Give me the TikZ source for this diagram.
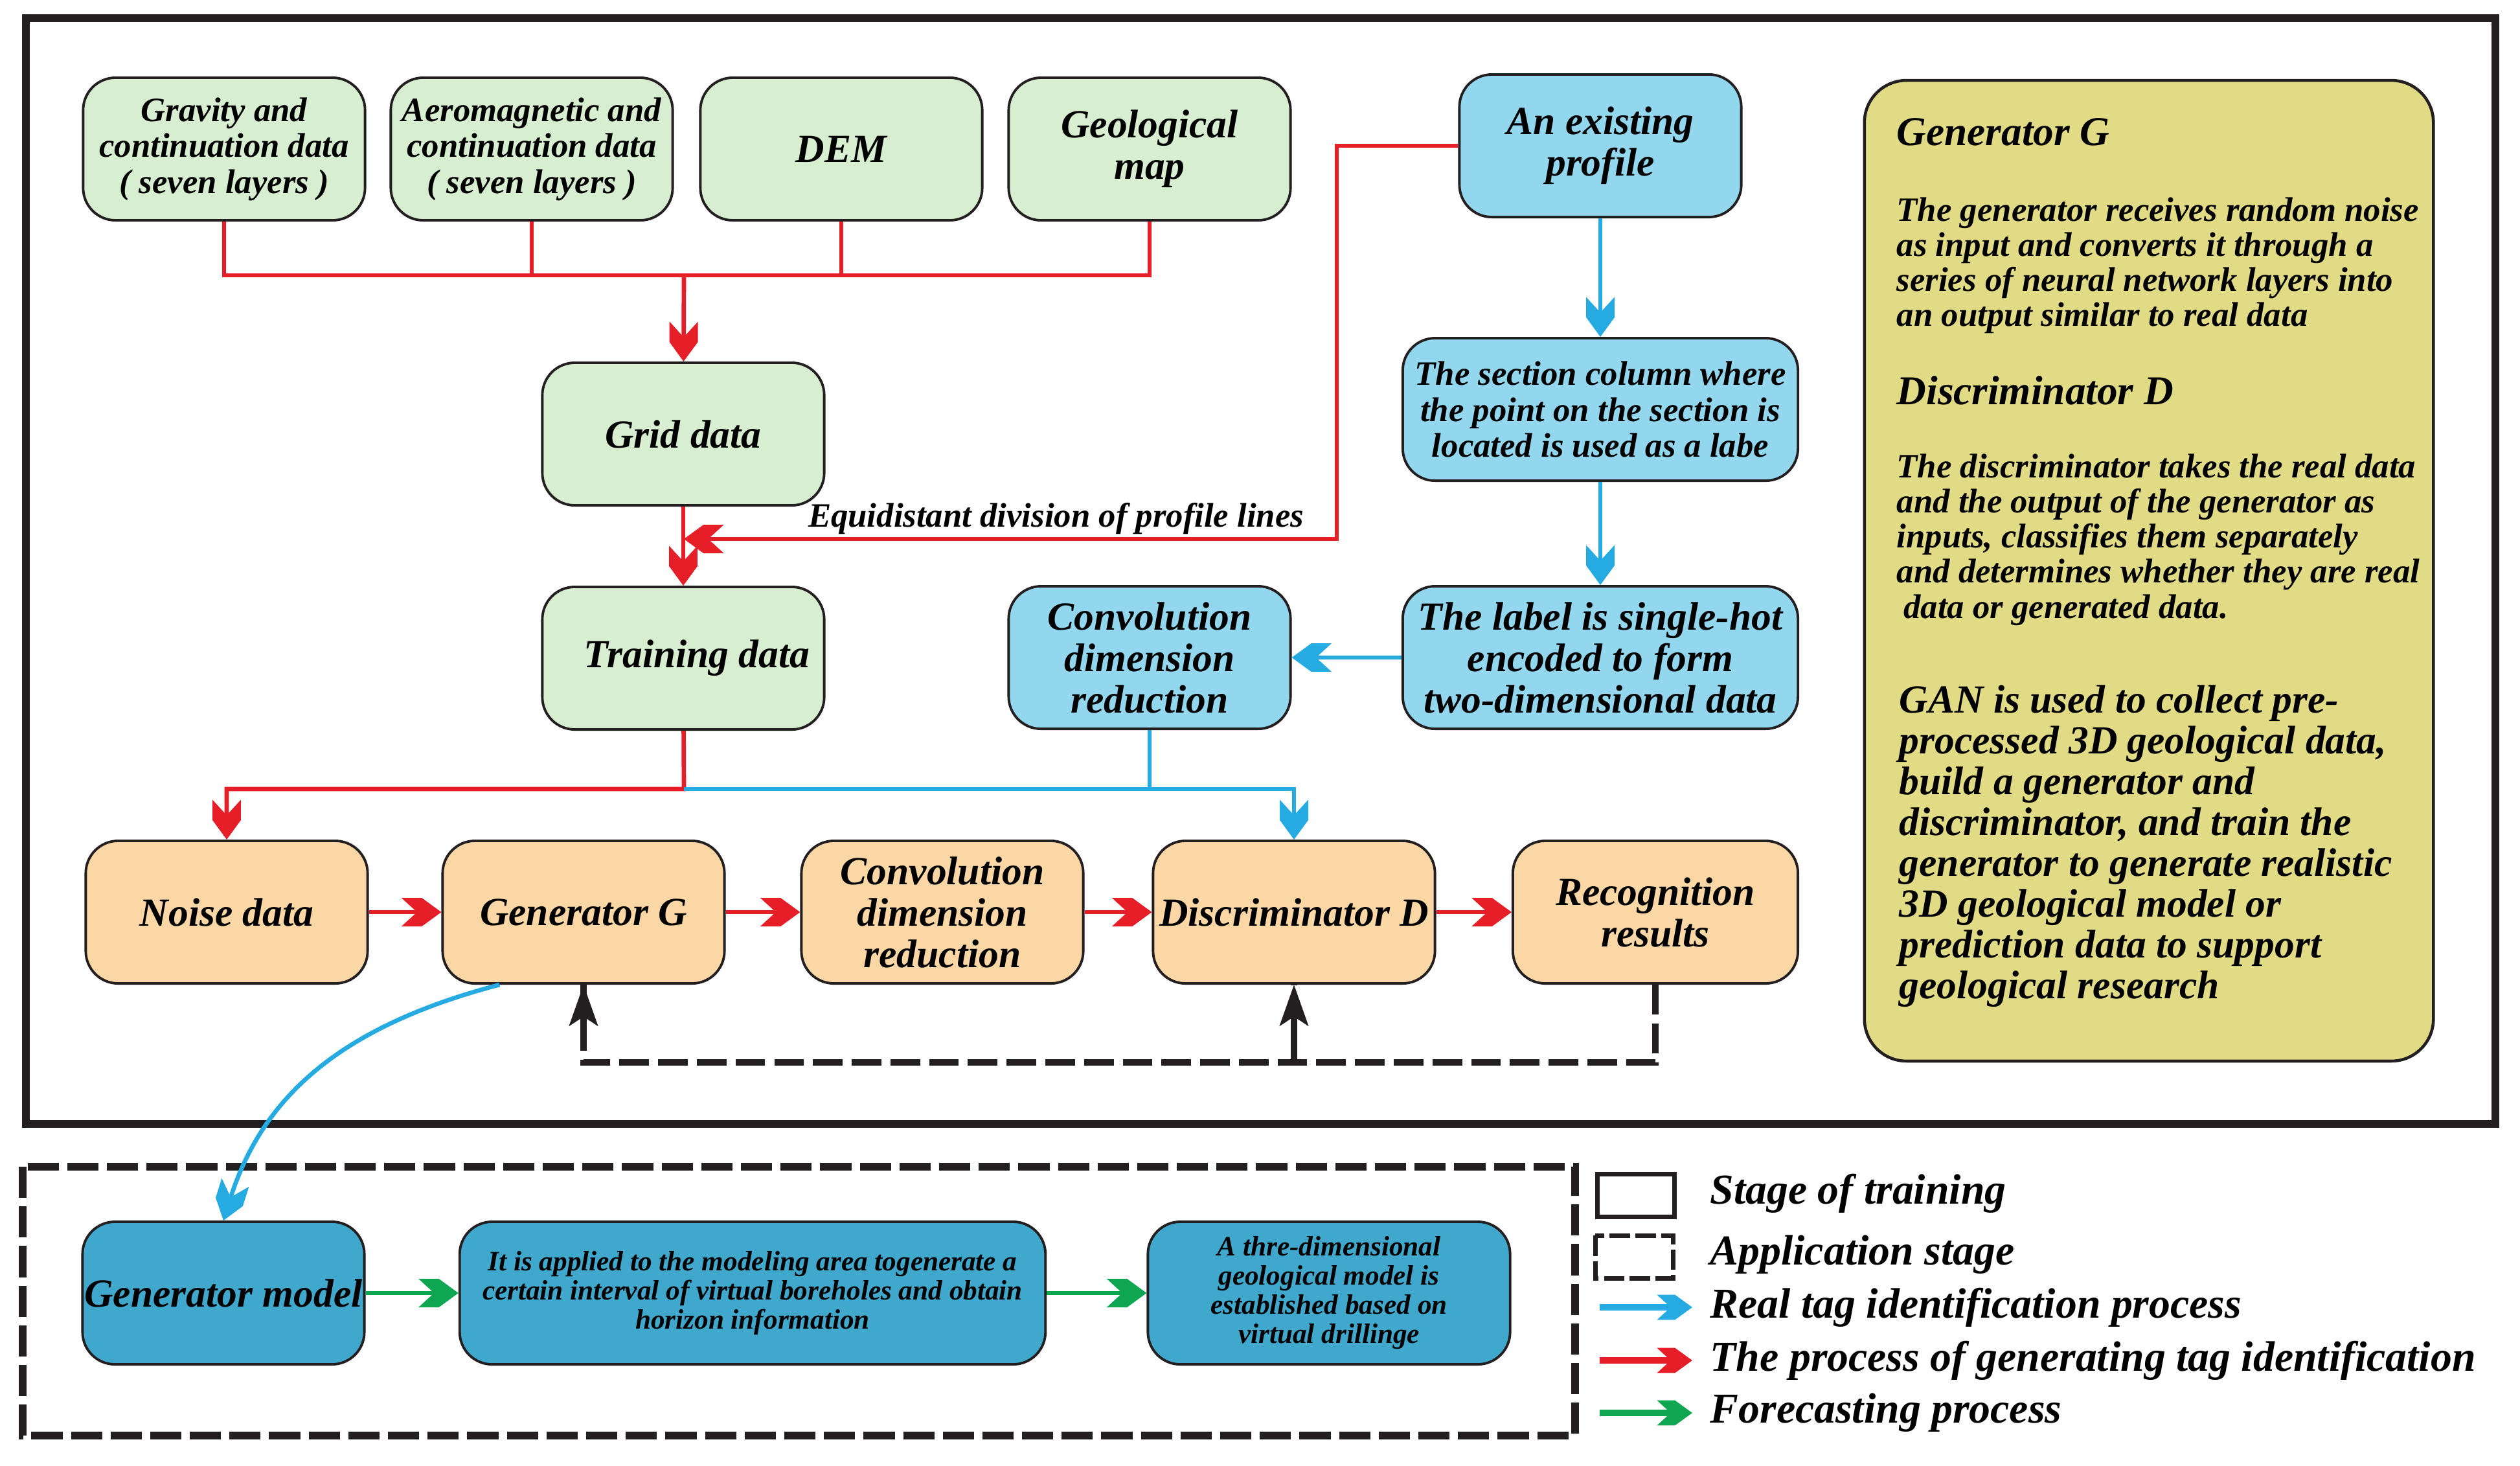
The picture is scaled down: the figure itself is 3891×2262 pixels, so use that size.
\documentclass[tikz,border=0pt]{standalone}
\usepackage{fontspec}
\setmainfont{Liberation Serif}
\usetikzlibrary{arrows.meta,calc}
\definecolor{boxgreen}{RGB}{216,238,208}
\definecolor{boxblue}{RGB}{146,215,238}
\definecolor{boxorange}{RGB}{250,215,164}
\definecolor{boxdeep}{RGB}{64,168,204}
\definecolor{boxyellow}{RGB}{226,219,134}
\definecolor{linered}{RGB}{230,30,40}
\definecolor{lineblue}{RGB}{38,170,226}
\definecolor{linegreen}{RGB}{14,166,80}
\definecolor{lineblack}{RGB}{35,31,32}
\pgfdeclarearrow{
	name=Chevron,
	parameters={\the\pgfarrowlength,\the\pgfarrowwidth},
	setup code={
		\pgfarrowssettipend{0pt}
		\pgfarrowssetlineend{-.55\pgfarrowlength}
		\pgfarrowssetbackend{-\pgfarrowlength}
		\pgfarrowssetvisualbackend{-.6\pgfarrowlength}
		\pgfarrowsupperhullpoint{-\pgfarrowlength}{.5\pgfarrowwidth}
		\pgfarrowsupperhullpoint{0pt}{0pt}
		\pgfarrowssavethe\pgfarrowlength
		\pgfarrowssavethe\pgfarrowwidth
	},
	drawing code={
		\pgfpathmoveto{\pgfqpoint{0pt}{0pt}}
		\pgfpathlineto{\pgfqpoint{-.49\pgfarrowlength}{.5\pgfarrowwidth}}
		\pgfpathlineto{\pgfqpoint{-\pgfarrowlength}{.5\pgfarrowwidth}}
		\pgfpathlineto{\pgfqpoint{-.61\pgfarrowlength}{0pt}}
		\pgfpathlineto{\pgfqpoint{-\pgfarrowlength}{-.5\pgfarrowwidth}}
		\pgfpathlineto{\pgfqpoint{-.49\pgfarrowlength}{-.5\pgfarrowwidth}}
		\pgfpathclose
		\pgfusepathqfill
	},
	defaults={length=16pt,width=12pt}
}
\begin{document}
\begin{tikzpicture}[x=.01cm,y=-.01cm,>={Chevron[length=17.5pt,width=12.5pt]},
	box/.style={draw=lineblack,line width=1.1pt,rounded corners=.5cm,minimum width=4.35cm,minimum height=2.2cm,align=center,inner sep=0pt,font=\bfseries\itshape\fontsize{17.5}{18.2}\selectfont},
	gbox/.style={box,fill=boxgreen},bbox/.style={box,fill=boxblue},
	obox/.style={box,fill=boxorange},dbox/.style={box,fill=boxdeep},
	small/.style={font=\bfseries\itshape\fontsize{15}{15.8}\selectfont},
	tiny/.style={font=\bfseries\itshape\fontsize{12.3}{12.8}\selectfont},
	info/.style={anchor=west,align=left,inner sep=0pt,font=\bfseries\itshape\fontsize{15}{15.4}\selectfont},
	legend/.style={anchor=west,inner sep=0pt,font=\bfseries\itshape\fontsize{18.7}{19}\selectfont},
	rline/.style={draw=linered,line width=1.9pt},
	bline/.style={draw=lineblue,line width=1.9pt},
	gline/.style={draw=linegreen,line width=1.9pt},
	kline/.style={draw=lineblack,line width=2.8pt,dash pattern=on 13pt off 4pt},
	ktip/.style={draw=lineblack,line width=2.6pt,-{Stealth[length=18pt,width=12.5pt,inset=4pt]}},
	ltip/.style={-{Chevron[length=15.5pt,width=11pt]},line width=2.8pt,shorten >=7.7pt}]
	\useasboundingbox (0,0) rectangle (3891,2262);
	\draw[lineblack,line width=3.4pt] (40,28) rectangle (3853,1735);
	\draw[lineblack,line width=3.3pt,dash pattern=on 13.7pt off 3.7pt] (35,1801) rectangle (2432,2216);
	\node[gbox,small] (grav) at (346,230) {Gravity and\\continuation data\\( seven layers )};
	\node[gbox,small] (aero) at (821,230) {Aeromagnetic and\\continuation data\\( seven layers )};
	\node[gbox] (dem) at (1299,230) {DEM};
	\node[gbox] (geo) at (1775,230) {Geological\\map};
	\node[gbox] (grid) at (1055,670) {Grid data};
	\node[gbox] (train) at (1055,1016) {\hspace{12pt}Training data};
	\node[bbox] (profile) at (2471,225) {An existing\\profile};
	\node[bbox,small,minimum width=6.1cm] (section) at (2471,632) {The section column where\\the point on the section is\\located is used as a labe};
	\node[bbox,minimum width=6.1cm] (label) at (2471,1015) {The label is single-hot\\encoded to form\\two-dimensional data};
	\node[bbox] (conv2) at (1775,1015) {Convolution\\dimension\\reduction};
	\node[obox] (noise) at (350,1408) {Noise data};
	\node[obox] (gen) at (901,1408) {Generator G};
	\node[obox] (conv) at (1455,1408) {Convolution\\dimension\\reduction};
	\node[obox] (disc) at (1998,1408) {Discriminator D};
	\node[obox,minimum width=4.4cm] (recog) at (2556,1408) {Recognition\\results};
	\node[box,fill=boxyellow,line width=1.3pt,rounded corners=.65cm,minimum width=8.78cm,minimum height=15.13cm] (infobox) at (3318,881) {};
	\node[info,font=\bfseries\itshape\fontsize{18}{18}\selectfont] (ghead) at (2928,204) {Generator G};
	\node[info] (gtext) at (2928,410) {The generator receives random noise\\as input and converts it through a\\series of neural network layers into\\an output similar to real data};
	\node[info,font=\bfseries\itshape\fontsize{18}{18}\selectfont] (dhead) at (2928,603) {Discriminator D};
	\node[info] (dtext) at (2928,833) {The discriminator takes the real data\\and the output of the generator as\\inputs, classifies them separately\\and determines whether they are real\\\hspace{3pt}data or generated data.};
	\node[info,font=\bfseries\itshape\fontsize{17.5}{17.9}\selectfont] (gantext) at (2932,1306) {GAN is used to collect pre-\\processed 3D geological data,\\build a generator and\\discriminator, and train the\\generator to generate realistic\\3D geological model or\\prediction data to support\\geological research};
	\node[dbox] (genmod) at (345,1996) {Generator model};
	\node[dbox,tiny,minimum width=9.04cm] (apply) at (1162,1996) {It is applied to the modeling area togenerate a\\certain interval of virtual boreholes and obtain\\horizon information};
	\node[dbox,tiny,minimum width=5.59cm] (thre) at (2052,1996) {A thre-dimensional\\geological model is\\established based on\\virtual drillinge};
	\coordinate (bus) at (1056,425);
	\coordinate (bend) at (2064,832);
	\coordinate (cut) at (1056,832);
	\coordinate (tsplit) at (1056,1218);
	\coordinate (fb) at (2556,1640);
	\coordinate (kstub) at (2556,1595);
	\draw[rline] (grav) |- (bus) -| (geo);
	\draw[rline] (aero) -- (aero |- bus) (dem) -- (dem |- bus);
	\draw[rline,->] (bus) -- (grid);
	\draw[rline,->] (grid) -- (train);
	\draw[rline,->] (profile.west) -| (bend) -- (cut) node[pos=.43,above=1pt,inner sep=0pt,font=\bfseries\itshape\fontsize{15}{15}\selectfont]{Equidistant division of profile lines};
	\draw[rline,->] (train) -- (tsplit) -| (noise);
	\draw[bline] (conv2) -- (conv2 |- tsplit);
	\draw[bline,->] (tsplit) -| (disc);
	\draw[bline,->] (profile) -- (section);
	\draw[bline,->] (section) -- (label);
	\draw[bline,->] (label) -- (conv2);
	\draw[rline,->] (noise) -- (gen);
	\draw[rline,->] (gen) -- (conv);
	\draw[rline,->] (conv) -- (disc);
	\draw[rline,->] (disc) -- (recog);
	\draw[kline] (recog) |- (fb) -| (gen);
	\draw[kline] (disc |- fb) -- (disc);
	\draw[ktip] (gen |- kstub) -- (gen);
	\draw[ktip] (disc |- kstub) -- (disc);
	\draw[bline,->] ($(gen.south west)+(90,0)$) .. controls (531,1583) and (406,1689) .. (genmod.north);
	\draw[gline,->] (genmod) -- (apply);
	\draw[gline,->] (apply) -- (thre);
	\draw[lineblack,line width=2pt] (2466,1812) rectangle (2585,1878);
	\draw[lineblack,line width=2pt,dash pattern=on 9pt off 2.3pt] (2463,1907) rectangle (2583,1973);
	\node[legend] (lstage) at (2640,1842) {Stage of training};
	\node[legend] (lapp) at (2640,1937) {Application stage};
	\node[legend] (lreal) at (2640,2018) {Real tag identification process};
	\node[legend] (lgen) at (2640,2100) {The process of generating tag identification};
	\node[legend] (lfore) at (2640,2181) {Forecasting process};
	\draw[bline,ltip] ($(lreal.west)+(-170,0)$) -- (lreal.west);
	\draw[rline,ltip] ($(lgen.west)+(-170,0)$) -- (lgen.west);
	\draw[gline,ltip] ($(lfore.west)+(-170,0)$) -- (lfore.west);
\end{tikzpicture}
\end{document}
